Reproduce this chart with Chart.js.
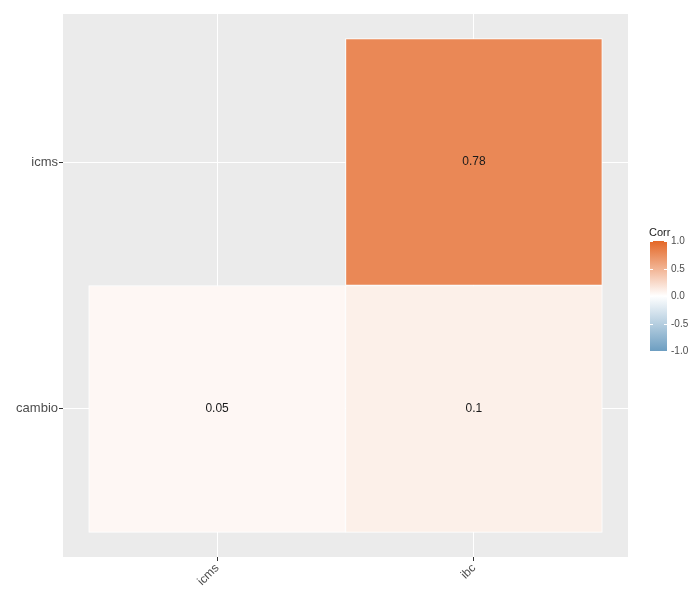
<!DOCTYPE html>
<html>
<head>
<meta charset="utf-8">
<script src="https://cdn.jsdelivr.net/npm/chart.js@4/dist/chart.umd.min.js"></script>
<style>
  html, body { margin: 0; padding: 0; background: #fff; }
  #wrap { width: 698px; height: 590px; }
</style>
</head>
<body>
<div id="wrap"><canvas id="corrChart" width="698" height="590"></canvas></div>
<script>
// categories
const xLabels = ['icms', 'ibc'];
const yLabels = ['cambio', 'icms'];

// one entry per tile (lower triangle of the correlation matrix)
const cellX = ['icms', 'ibc', 'ibc'];
const cellY = ['cambio', 'cambio', 'icms'];
const corrValues = [0.05, 0.1, 0.78];

// colour bar ticks
const legendTicks = [1.0, 0.5, 0.0, -0.5, -1.0];

const lowCol = [109, 158, 193];   // #6D9EC1
const midCol = [255, 255, 255];
const highCol = [228, 103, 38];   // #E46726

function corrColour(v) {
    const end = v >= 0 ? highCol : lowCol;
    const t = Math.min(1, Math.abs(v));
    const c = midCol.map((m, i) => Math.round(m + (end[i] - m) * t));
    return 'rgb(' + c.join(',') + ')';
}

const tiles = cellX.map(function (cx, i) {
    const yi = yLabels.indexOf(cellY[i]) + 1;
    return { x: xLabels.indexOf(cx) + 1, y: [yi - 0.5, yi + 0.5] };
});

const fontFam = '"Liberation Sans", Arial, sans-serif';

const panelBg = {
    id: 'panelBg',
    beforeDraw(chart) {
        const a = chart.chartArea, ctx = chart.ctx;
        ctx.save();
        ctx.fillStyle = '#EBEBEB';
        ctx.fillRect(a.left, a.top, a.right - a.left, a.bottom - a.top);
        ctx.restore();
    }
};

const cellText = {
    id: 'cellText',
    afterDatasetsDraw(chart) {
        const ctx = chart.ctx;
        const meta = chart.getDatasetMeta(0);
        ctx.save();
        ctx.font = '12px ' + fontFam;
        ctx.fillStyle = '#1a1a1a';
        ctx.textAlign = 'center';
        ctx.textBaseline = 'middle';
        meta.data.forEach(function (el, i) {
            ctx.fillText(String(corrValues[i]), el.x, (el.y + el.base) / 2);
        });
        ctx.restore();
    }
};

const colourBar = {
    id: 'colourBar',
    afterDraw(chart) {
        const ctx = chart.ctx;
        const left = 650, width = 17, top = 241, bottom = 351;
        const yFor = v => top + (1 - v) / 2 * (bottom - top);
        ctx.save();
        ctx.font = '11px ' + fontFam;
        ctx.fillStyle = '#1a1a1a';
        ctx.textAlign = 'left';
        ctx.textBaseline = 'alphabetic';
        ctx.fillText('Corr', 649, 236);

        const g = ctx.createLinearGradient(0, top, 0, bottom);
        g.addColorStop(0, corrColour(1));
        g.addColorStop(0.5, corrColour(0));
        g.addColorStop(1, corrColour(-1));
        ctx.fillStyle = g;
        ctx.fillRect(left, top, width, bottom - top);

        ctx.strokeStyle = '#fff';
        ctx.lineWidth = 1;
        ctx.font = '10px ' + fontFam;
        ctx.fillStyle = '#4D4D4D';
        ctx.textBaseline = 'middle';
        legendTicks.forEach(function (v) {
            const y = Math.round(yFor(v)) + 0.5;
            ctx.beginPath();
            ctx.moveTo(left, y); ctx.lineTo(left + 3, y);
            ctx.moveTo(left + width - 3, y); ctx.lineTo(left + width, y);
            ctx.stroke();
            ctx.fillText(v.toFixed(1), left + width + 4, y);
        });
        ctx.restore();
    }
};

const fixedTicks = scale => { scale.ticks = [{ value: 1 }, { value: 2 }]; };

new Chart(document.getElementById('corrChart').getContext('2d'), {
    type: 'bar',
    data: {
        datasets: [{
            data: tiles,
            backgroundColor: corrValues.map(corrColour),
            borderColor: '#ffffff',
            borderWidth: 1,
            borderSkipped: false,
            categoryPercentage: 1,
            barPercentage: 1
        }]
    },
    options: {
        responsive: false,
        animation: false,
        layout: { padding: { top: 14, right: 70, left: 0, bottom: 0 } },
        plugins: { legend: { display: false }, tooltip: { enabled: false } },
        scales: {
            x: {
                type: 'linear',
                min: 0.4,
                max: 2.6,
                offset: false,
                afterBuildTicks: fixedTicks,
                afterFit: s => { s.height = 33; },
                border: { display: false },
                grid: { offset: false, color: '#ffffff', lineWidth: 1, tickColor: '#333333', tickLength: 4 },
                ticks: {
                    autoSkip: false,
                    minRotation: 45,
                    maxRotation: 45,
                    padding: 0,
                    color: '#4D4D4D',
                    font: { family: fontFam, size: 12 },
                    callback: v => xLabels[v - 1]
                }
            },
            y: {
                type: 'linear',
                min: 0.4,
                max: 2.6,
                afterBuildTicks: fixedTicks,
                afterFit: s => { s.width = 63; },
                border: { display: false },
                grid: { color: '#ffffff', lineWidth: 1, tickColor: '#333333', tickLength: 4 },
                ticks: {
                    padding: 1,
                    color: '#4D4D4D',
                    font: { family: fontFam, size: 13 },
                    callback: v => yLabels[v - 1]
                }
            }
        }
    },
    plugins: [panelBg, cellText, colourBar]
});
</script>
</body>
</html>
